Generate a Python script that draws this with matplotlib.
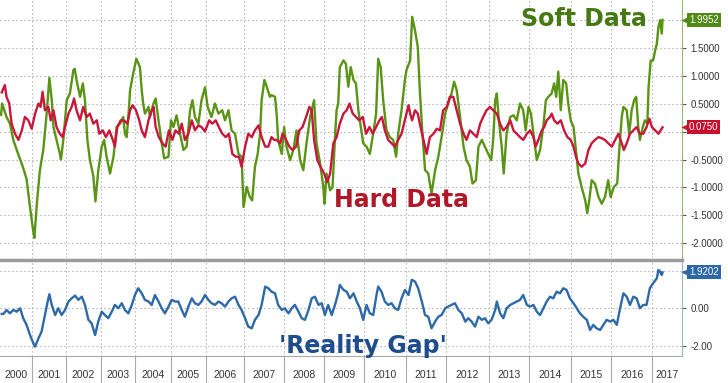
import numpy as np
import matplotlib
matplotlib.use('Agg')
import matplotlib.pyplot as plt
from matplotlib import transforms
from matplotlib.ticker import FuncFormatter

# ---- data (decimal years, z-scores) ----
soft_dates = [
    2000.10, 2000.13, 2000.26, 2000.36, 2000.46, 2000.56, 2000.66, 2000.75, 2000.85, 2000.95,
    2001.05, 2001.08, 2001.15, 2001.24, 2001.34, 2001.44, 2001.52, 2001.59, 2001.64, 2001.73,
    2001.83, 2001.86, 2001.93, 2002.03, 2002.12, 2002.22, 2002.26, 2002.31, 2002.41, 2002.49,
    2002.55, 2002.62, 2002.69, 2002.79, 2002.85, 2002.93, 2003.03, 2003.10, 2003.17, 2003.27,
    2003.37, 2003.46, 2003.56, 2003.65, 2003.70, 2003.75, 2003.80, 2003.85, 2003.94, 2004.03,
    2004.13, 2004.18, 2004.22, 2004.27, 2004.37, 2004.41, 2004.51, 2004.57, 2004.65, 2004.74,
    2004.81, 2004.93, 2005.00, 2005.07, 2005.16, 2005.26, 2005.36, 2005.45, 2005.55, 2005.62,
    2005.69, 2005.79, 2005.88, 2005.98, 2006.05, 2006.15, 2006.24, 2006.33, 2006.43, 2006.50,
    2006.59, 2006.67, 2006.76, 2006.85, 2006.93, 2006.98, 2007.06, 2007.14, 2007.20, 2007.27,
    2007.34, 2007.40, 2007.44, 2007.51, 2007.57, 2007.65, 2007.69, 2007.78, 2007.82, 2007.86,
    2007.95, 2008.01, 2008.07, 2008.16, 2008.24, 2008.32, 2008.41, 2008.49, 2008.57, 2008.66,
    2008.76, 2008.82, 2008.91, 2008.99, 2009.02, 2009.07, 2009.16, 2009.22, 2009.28, 2009.32,
    2009.36, 2009.40, 2009.49, 2009.55, 2009.61, 2009.67, 2009.74, 2009.80, 2009.86, 2009.92,
    2009.98, 2010.06, 2010.14, 2010.22, 2010.29, 2010.34, 2010.40, 2010.46, 2010.54, 2010.62,
    2010.70, 2010.77, 2010.82, 2010.90, 2010.98, 2011.02, 2011.11, 2011.16, 2011.23, 2011.30,
    2011.35, 2011.41, 2011.48, 2011.56, 2011.64, 2011.73, 2011.81, 2011.89, 2011.98, 2012.05,
    2012.13, 2012.19, 2012.25, 2012.33, 2012.41, 2012.48, 2012.56, 2012.62, 2012.70, 2012.76,
    2012.84, 2012.91, 2012.99, 2013.06, 2013.11, 2013.16, 2013.20, 2013.25, 2013.32, 2013.37,
    2013.44, 2013.53, 2013.61, 2013.69, 2013.77, 2013.85, 2013.91, 2013.98, 2014.04, 2014.12,
    2014.18, 2014.26, 2014.34, 2014.40, 2014.46, 2014.54, 2014.60, 2014.65, 2014.70, 2014.76,
    2014.82, 2014.89, 2014.94, 2015.00, 2015.07, 2015.13, 2015.19, 2015.27, 2015.36, 2015.41,
    2015.46, 2015.52, 2015.60, 2015.69, 2015.77, 2015.85, 2015.93, 2015.99, 2016.07, 2016.15,
    2016.20, 2016.26, 2016.30, 2016.38, 2016.44, 2016.50, 2016.56, 2016.61, 2016.66, 2016.70,
    2016.77, 2016.82, 2016.88, 2016.91, 2016.96, 2017.02, 2017.07, 2017.11, 2017.15, 2017.19,
    2017.23, 2017.25]
soft_vals = [
    0.30, 0.50, 0.26, 0.14, -0.15, -0.33, -0.50, -0.65, -0.85, -1.35,
    -1.80, -1.90, -1.30, -0.70, -0.33, 0.32, 0.96, 0.56, 0.08, -0.15,
    -0.40, -0.50, -0.15, 0.56, 0.68, 1.10, 1.12, 0.92, 0.62, 0.86,
    0.56, -0.15, -0.50, -0.80, -1.25, -0.70, -0.27, -0.15, -0.45, -0.75,
    -0.45, 0.08, 0.14, 0.26, -0.04, -0.10, 0.26, 0.74, 1.04, 1.30,
    1.15, 0.74, 0.50, 0.32, 0.44, 0.26, 0.50, 0.59, 0.20, -0.21,
    -0.48, -0.45, 0.20, 0.08, 0.29, -0.04, -0.33, -0.27, 0.38, 0.56,
    0.26, 0.14, 0.56, 0.79, 0.44, 0.26, 0.50, 0.32, 0.38, 0.20,
    0.38, 0.02, -0.04, -0.40, -0.45, -1.35, -0.99, -1.17, -1.23, -0.63,
    -0.40, -0.04, 0.56, 0.92, 0.80, 0.62, 0.65, 0.62, 0.32, -0.15,
    -0.40, 0.08, -0.27, -0.51, -0.33, 0.02, -0.51, -0.69, -0.21, 0.26,
    0.56, -0.21, -0.57, -0.99, -1.29, -0.75, -1.05, -0.99, -0.10, 0.38,
    0.50, 1.15, 1.27, 1.21, 0.80, 1.15, 0.92, 0.86, 0.38, 0.08,
    -0.21, -0.27, -0.40, -0.04, 0.32, 1.30, 1.15, 0.56, 0.02, -0.10,
    -0.15, -0.45, -0.04, 0.38, 0.92, 1.10, 1.27, 2.05, 1.81, 1.51,
    0.74, 0.02, -0.69, -0.75, -1.11, -0.69, -0.45, -0.10, 0.32, 0.50,
    0.68, 0.89, 0.74, 0.26, -0.27, -0.51, -0.63, -0.93, -0.87, -0.27,
    -0.15, -0.27, -0.40, -0.51, -0.15, 0.56, 0.68, 0.20, -0.27, -0.75,
    -0.04, 0.26, 0.29, 0.20, 0.50, 0.38, 0.02, 0.44, 0.32, -0.15,
    -0.51, -0.33, 0.10, 0.56, 0.62, 0.68, 0.86, 0.62, 1.07, 0.38,
    0.92, 0.86, 0.50, 0.20, 0.08, -0.33, -0.75, -0.99, -1.23, -1.46,
    -1.23, -0.87, -0.93, -1.17, -1.29, -1.17, -0.87, -1.17, -0.99, -0.93,
    -0.33, 0.26, 0.44, 0.38, -0.04, 0.38, 0.56, 0.62, 0.08, -0.15,
    0.08, 0.20, 0.14, 0.80, 1.27, 1.27, 1.45, 1.57, 1.87, 1.99,
    1.75, 1.9952]

hard_dates = [
    2000.12, 2000.21, 2000.26, 2000.34, 2000.41, 2000.51, 2000.61, 2000.71, 2000.80, 2000.90,
    2001.00, 2001.10, 2001.20, 2001.26, 2001.32, 2001.39, 2001.49, 2001.56, 2001.64, 2001.73,
    2001.83, 2001.91, 2001.98, 2002.08, 2002.17, 2002.24, 2002.31, 2002.41, 2002.50, 2002.60,
    2002.69, 2002.79, 2002.89, 2002.96, 2003.06, 2003.15, 2003.25, 2003.35, 2003.41, 2003.48,
    2003.58, 2003.67, 2003.77, 2003.85, 2003.92, 2004.02, 2004.11, 2004.18, 2004.27, 2004.37,
    2004.46, 2004.51, 2004.57, 2004.66, 2004.76, 2004.85, 2004.94, 2005.04, 2005.13, 2005.23,
    2005.31, 2005.40, 2005.50, 2005.60, 2005.69, 2005.79, 2005.88, 2005.98, 2006.09, 2006.17,
    2006.26, 2006.34, 2006.43, 2006.52, 2006.60, 2006.69, 2006.78, 2006.86, 2006.93, 2007.02,
    2007.10, 2007.19, 2007.27, 2007.36, 2007.44, 2007.53, 2007.61, 2007.69, 2007.76, 2007.82,
    2007.91, 2007.97, 2008.06, 2008.14, 2008.22, 2008.31, 2008.39, 2008.47, 2008.56, 2008.64,
    2008.70, 2008.76, 2008.84, 2008.92, 2009.01, 2009.09, 2009.16, 2009.24, 2009.32, 2009.40,
    2009.49, 2009.57, 2009.64, 2009.72, 2009.80, 2009.88, 2009.97, 2010.05, 2010.13, 2010.21,
    2010.29, 2010.37, 2010.43, 2010.50, 2010.58, 2010.66, 2010.74, 2010.82, 2010.90, 2010.98,
    2011.07, 2011.11, 2011.16, 2011.23, 2011.30, 2011.35, 2011.44, 2011.52, 2011.60, 2011.69,
    2011.77, 2011.85, 2011.93, 2012.02, 2012.09, 2012.17, 2012.25, 2012.33, 2012.41, 2012.48,
    2012.56, 2012.64, 2012.72, 2012.80, 2012.87, 2012.95, 2013.03, 2013.11, 2013.20, 2013.28,
    2013.36, 2013.44, 2013.53, 2013.61, 2013.69, 2013.77, 2013.85, 2013.94, 2014.02, 2014.10,
    2014.15, 2014.22, 2014.30, 2014.36, 2014.42, 2014.50, 2014.54, 2014.60, 2014.68, 2014.76,
    2014.84, 2014.92, 2015.00, 2015.07, 2015.13, 2015.19, 2015.27, 2015.36, 2015.44, 2015.52,
    2015.60, 2015.69, 2015.77, 2015.85, 2015.93, 2016.02, 2016.10, 2016.18, 2016.26, 2016.31,
    2016.38, 2016.46, 2016.54, 2016.62, 2016.70, 2016.78, 2016.86, 2016.93, 2016.99, 2017.07,
    2017.15, 2017.23, 2017.25]
hard_vals = [
    0.70, 0.83, 0.62, 0.50, 0.14, -0.04, -0.15, 0.02, 0.26, 0.20,
    0.05, 0.32, 0.50, 0.44, 0.71, 0.38, 0.44, 0.20, 0.38, 0.08,
    -0.04, -0.10, 0.08, 0.32, 0.44, 0.59, 0.38, 0.20, 0.44, 0.26,
    0.32, 0.14, 0.20, -0.04, 0.02, -0.10, 0.02, -0.15, -0.27, 0.08,
    0.20, 0.20, 0.14, 0.38, 0.47, 0.38, 0.20, 0.02, -0.10, 0.20,
    0.38, 0.44, 0.08, -0.10, -0.21, -0.27, 0.02, -0.15, 0.02, -0.04,
    0.14, -0.15, -0.04, 0.20, 0.02, 0.11, 0.08, 0.00, 0.20, 0.14,
    0.20, 0.08, -0.04, -0.10, -0.04, -0.40, -0.45, -0.45, -0.63, -0.27,
    -0.04, -0.10, 0.02, 0.11, -0.10, -0.27, -0.27, -0.10, -0.15, -0.15,
    -0.21, -0.04, -0.15, -0.27, -0.33, -0.27, 0.02, 0.08, 0.26, 0.44,
    0.38, -0.15, -0.51, -0.63, -0.75, -0.90, -0.75, -0.21, -0.10, 0.14,
    0.32, 0.38, 0.50, 0.32, 0.26, 0.20, 0.26, -0.04, 0.08, -0.04,
    0.08, 0.20, 0.26, 0.02, -0.15, -0.21, -0.27, -0.15, -0.04, 0.20,
    0.47, 0.32, 0.20, 0.38, 0.32, 0.14, -0.15, -0.40, -0.10, -0.04,
    0.05, 0.02, 0.38, 0.44, 0.62, 0.62, 0.38, 0.14, -0.04, -0.15,
    0.02, -0.04, -0.10, 0.14, 0.26, 0.38, 0.44, 0.38, 0.32, 0.14,
    0.02, 0.08, 0.20, 0.02, -0.04, -0.10, -0.15, -0.04, 0.02, -0.10,
    -0.27, -0.15, 0.02, 0.08, 0.20, 0.26, 0.32, 0.20, 0.14, 0.20,
    0.02, -0.10, -0.15, -0.27, -0.45, -0.57, -0.63, -0.57, -0.33, -0.21,
    -0.15, -0.10, -0.12, -0.15, -0.21, -0.27, -0.15, -0.04, -0.21, -0.33,
    -0.21, -0.04, 0.02, 0.08, -0.04, -0.04, 0.08, 0.23, 0.08, 0.02,
    -0.04, 0.05, 0.075]

gap_dates = [
    2000.12, 2000.17, 2000.26, 2000.36, 2000.46, 2000.56, 2000.66, 2000.75, 2000.85, 2000.95,
    2001.05, 2001.10, 2001.20, 2001.29, 2001.39, 2001.47, 2001.52, 2001.59, 2001.69, 2001.78,
    2001.88, 2001.98, 2002.08, 2002.17, 2002.27, 2002.36, 2002.46, 2002.55, 2002.65, 2002.74,
    2002.84, 2002.93, 2003.03, 2003.12, 2003.22, 2003.32, 2003.41, 2003.51, 2003.61, 2003.70,
    2003.80, 2003.90, 2003.99, 2004.08, 2004.18, 2004.27, 2004.37, 2004.46, 2004.55, 2004.65,
    2004.74, 2004.83, 2004.93, 2005.02, 2005.12, 2005.21, 2005.31, 2005.40, 2005.50, 2005.60,
    2005.69, 2005.79, 2005.88, 2005.98, 2006.07, 2006.15, 2006.24, 2006.33, 2006.41, 2006.50,
    2006.59, 2006.67, 2006.76, 2006.85, 2006.93, 2007.02, 2007.10, 2007.19, 2007.27, 2007.36,
    2007.44, 2007.53, 2007.61, 2007.69, 2007.78, 2007.86, 2007.95, 2008.03, 2008.12, 2008.20,
    2008.28, 2008.37, 2008.45, 2008.53, 2008.62, 2008.70, 2008.78, 2008.87, 2008.95, 2009.03,
    2009.11, 2009.20, 2009.28, 2009.36, 2009.40, 2009.49, 2009.57, 2009.65, 2009.74, 2009.82,
    2009.90, 2009.98, 2010.06, 2010.14, 2010.22, 2010.30, 2010.34, 2010.42, 2010.50, 2010.58,
    2010.66, 2010.74, 2010.82, 2010.90, 2010.98, 2011.07, 2011.15, 2011.23, 2011.31, 2011.40,
    2011.48, 2011.56, 2011.64, 2011.73, 2011.81, 2011.89, 2011.98, 2012.05, 2012.13, 2012.21,
    2012.29, 2012.37, 2012.45, 2012.52, 2012.60, 2012.68, 2012.76, 2012.84, 2012.91, 2012.99,
    2013.07, 2013.16, 2013.20, 2013.28, 2013.36, 2013.44, 2013.53, 2013.61, 2013.69, 2013.77,
    2013.85, 2013.94, 2014.02, 2014.10, 2014.18, 2014.26, 2014.34, 2014.42, 2014.50, 2014.58,
    2014.66, 2014.74, 2014.82, 2014.90, 2014.98, 2015.07, 2015.15, 2015.23, 2015.31, 2015.40,
    2015.48, 2015.56, 2015.64, 2015.73, 2015.81, 2015.89, 2015.98, 2016.06, 2016.14, 2016.22,
    2016.30, 2016.38, 2016.46, 2016.54, 2016.62, 2016.70, 2016.78, 2016.86, 2016.94, 2017.02,
    2017.11, 2017.15, 2017.19, 2017.23, 2017.25]
gap_vals = [
    -0.30, -0.30, -0.09, -0.27, -0.09, -0.18, 0.00, -0.53, -0.89, -1.43,
    -1.87, -2.05, -1.60, -1.25, -0.36, 0.36, 0.75, 0.18, -0.36, 0.00,
    -0.36, -0.09, 0.36, 0.53, 0.68, 0.45, 0.62, 0.18, -0.62, -0.80,
    -1.43, -0.71, -0.18, -0.36, -0.53, -0.18, 0.18, 0.00, 0.27, -0.09,
    -0.27, 0.18, 0.71, 1.07, 0.80, 0.45, 0.36, 0.18, 0.71, 0.36,
    0.00, -0.27, 0.09, 0.45, 0.36, 0.36, -0.09, -0.45, 0.09, 0.53,
    0.27, 0.18, 0.36, 0.71, 0.45, 0.27, 0.18, 0.36, 0.27, 0.09,
    0.36, 0.53, 0.62, 0.18, -0.09, -0.53, -0.98, -1.07, -0.62, -0.36,
    0.18, 1.16, 1.07, 0.89, 0.80, 0.18, -0.09, 0.00, -0.27, 0.00,
    0.18, -0.18, -0.53, -0.62, -0.09, 0.53, 0.62, 0.18, 0.27, -0.36,
    0.18, -0.36, 0.18, 0.80, 1.25, 0.98, 0.89, 0.53, 0.80, 0.36,
    0.00, -0.62, 0.18, -0.27, -0.36, 0.71, 1.16, 0.89, 0.36, 0.18,
    0.27, 0.00, -0.09, 0.53, 0.98, 0.71, 1.52, 1.43, 1.07, 0.36,
    -0.36, -0.45, -1.07, -0.71, -0.45, -0.36, 0.00, 0.09, 0.18, 0.27,
    -0.09, -0.27, -0.71, -0.53, -0.71, -0.98, -0.45, -0.62, -0.53, -0.80,
    -0.62, -0.09, 0.36, -0.27, -0.53, 0.00, 0.18, 0.27, 0.36, 0.45,
    0.71, 0.18, 0.09, 0.18, -0.18, -0.36, 0.00, 0.36, 0.62, 0.53,
    0.89, 0.80, 1.07, 0.98, 0.53, 0.27, 0.00, -0.27, -0.45, -0.62,
    -1.16, -0.89, -1.07, -1.16, -0.89, -0.62, -0.71, -0.62, -0.89, 0.00,
    0.80, 0.62, 0.18, 0.62, 0.53, 0.00, 0.18, 0.18, 1.07, 1.34,
    1.60, 2.05, 1.96, 1.78, 1.9202]

years = list(range(2000, 2018))

# Bloomberg squeezes the early years a bit: on-screen width of each year (px)
year_px = [34, 34, 35, 34.6, 35.7, 34.7, 38.6, 39.4, 40, 40.3,
           41.7, 40.3, 42.7, 40.6, 41.4, 40.3, 41.3, 41]
edge_years = np.arange(2000, 2019)
edge_pos = np.concatenate([[0], np.cumsum(year_px)])


def fwd(x):
    return np.interp(x, edge_years, edge_pos)


def inv(p):
    return np.interp(p, edge_pos, edge_years)


def tick_fmt(fmt, hidden):
    # labels sitting under the last-value tags are not shown
    def f(v, pos):
        if any(abs(v - h) < 1e-6 for h in hidden):
            return ''
        return fmt % v
    return FuncFormatter(f)


green = '#5a9414'
red = '#c8173a'
blue = '#2e69a8'
grid_ls = (0, (1, 2.6))

plt.rcParams['font.family'] = ['Liberation Sans', 'DejaVu Sans']
plt.rcParams['axes.unicode_minus'] = False

W, H = 728, 383
fig = plt.figure(figsize=(W / 100, H / 100), dpi=100)
ax1 = fig.add_axes([0, 125 / H, 682 / W, 258 / H])
ax2 = fig.add_axes([0, 27 / H, 682 / W, 96 / H])

x_lo, x_hi = 2000.068, 2017.724
for ax in (ax1, ax2):
    ax.set_xscale('function', functions=(fwd, inv))
    ax.set_xlim(x_lo, x_hi)
    ax.set_xticks(range(2001, 2018))
    ax.grid(True, ls=grid_ls, color='#9a9a9a', lw=0.8)
    ax.yaxis.tick_right()
    ax.tick_params(axis='y', length=3, width=0.8, color='#555555', pad=3,
                   labelsize=7, labelcolor='#333333')
    ax.spines['left'].set_visible(False)
    ax.spines['top'].set_visible(False)

# top panel
ax1.plot(soft_dates, soft_vals, color=green, lw=1.7, zorder=3)
ax1.plot(hard_dates, hard_vals, color=red, lw=1.7, zorder=4)
ax1.set_ylim(-2.26, 2.35)
ax1.set_yticks(np.arange(-2, 2.01, 0.5))
ax1.yaxis.set_major_formatter(tick_fmt('%.4f', [0.0, 2.0]))
ax1.tick_params(axis='x', length=0, labelbottom=False)
ax1.spines['bottom'].set_visible(False)
ax1.spines['right'].set_color('#98b86a')

# bottom panel
ax2.plot(gap_dates, gap_vals, color=blue, lw=1.7, zorder=3)
ax2.set_ylim(-2.55, 2.58)
ax2.set_yticks([-2, 0, 2])
ax2.yaxis.set_major_formatter(tick_fmt('%.2f', [2.0]))
ax2.spines['top'].set_visible(True)
ax2.spines['top'].set_color('#9c9c9c')
ax2.spines['top'].set_linewidth(2.5)
ax2.spines['right'].set_color('#98b4d8')
ax2.spines['bottom'].set_color('#a8a8a8')
ax2.spines['bottom'].set_linewidth(0.8)
ax2.tick_params(axis='x', which='major', length=19.5, width=0.8,
                color='#a8a8a8', labelbottom=False)
mids = [inv((fwd(max(y, x_lo)) + fwd(min(y + 1, x_hi))) / 2) for y in years]
ax2.set_xticks(mids, minor=True)
ax2.set_xticklabels([str(y) for y in years], minor=True)
ax2.tick_params(axis='x', which='minor', length=0, pad=10, labelsize=7.5,
                labelcolor='#333333')


def tag(ax, val, txt, color):
    trans = transforms.blended_transform_factory(ax.transAxes, ax.transData)
    ax.plot([1], [val], marker='<', ms=8, color=color, mec='none', clip_on=False, zorder=10,
            transform=transforms.offset_copy(trans, fig=fig, x=5, y=0, units='dots'))
    ax.annotate(txt, xy=(1, val), xycoords=trans, xytext=(5, 0), textcoords='offset points',
                ha='left', va='center', color='white', fontsize=7, zorder=11,
                bbox=dict(boxstyle='square,pad=0.2', fc=color, ec='none'),
                annotation_clip=False)


tag(ax1, soft_vals[-1], '1.9952', '#508a16')
tag(ax1, hard_vals[-1], '0.0750', '#c8102e')
tag(ax2, gap_vals[-1], '1.9202', '#2c67a6')

fig.text(584 / W, (H - 26) / H, 'Soft Data', family='DejaVu Sans', weight='bold',
         fontsize=17, color='#457a12', ha='center', va='baseline')
fig.text(401.5 / W, (H - 206.7) / H, 'Hard Data', family='DejaVu Sans', weight='bold',
         fontsize=17, color='#b01828', ha='center', va='baseline', zorder=5)
fig.text(363 / W, (H - 352.7) / H, "'Reality Gap'", family='DejaVu Sans', weight='bold',
         fontsize=17, color='#1e4d8c', ha='center', va='baseline', zorder=5)

fig.savefig('out.png', dpi=100)
